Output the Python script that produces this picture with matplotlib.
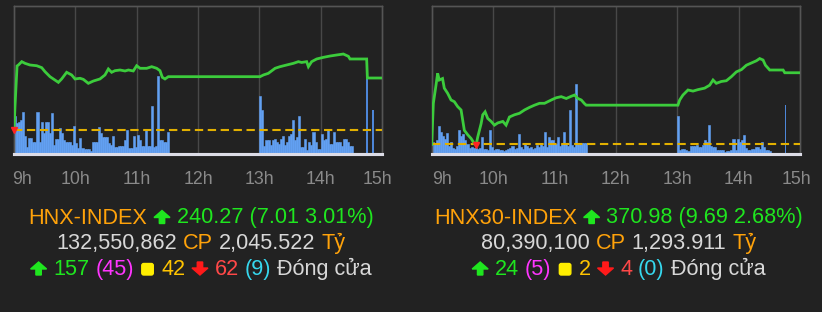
import matplotlib
matplotlib.use("Agg")
import matplotlib.pyplot as plt
from matplotlib.patches import Polygon, FancyBboxPatch
from matplotlib.transforms import IdentityTransform
import numpy as np

# ---------------- data ----------------
hour_labels = ["9h", "10h", "11h", "12h", "13h", "14h", "15h"]

# HNX-INDEX price path (minutes since 9:00, index value)
hnx_ref = 233.26
hnx_t = [0, 1, 3, 4.3, 7.6, 10.8, 15.6, 22.2, 27.1, 30.3, 35.2, 43.4, 46.6, 51.5, 56.4, 59.7,
         64.6, 67.8, 72.7, 77.6, 84.1, 89.0, 92.3, 95.5, 98.8, 103.7, 108.6, 111.9, 116.7,
         120.0, 123.3, 129.8, 134.7, 139.6, 142.8, 145.1, 147.7, 151.0, 240.7, 244.0, 248.8,
         255.4, 260.2, 266.8, 273.3, 278.2, 281.4, 286.3, 288.0, 291.2, 296.1, 302.6, 309.2,
         315.7, 322.2, 327.1, 328.7, 345.0, 345.7, 360.0]
hnx_p = [233.26, 236.5, 241.9, 242.03, 242.48, 242.25, 242.03, 241.93, 241.67, 241.13, 240.45,
         239.68, 240.14, 241.04, 240.68, 240.14, 240.23, 240.09, 239.55, 239.86, 240.14, 240.68,
         241.49, 241.04, 241.26, 241.35, 241.22, 241.35, 241.22, 241.93, 241.58, 241.58, 241.8,
         241.58, 241.26, 240.36, 240.14, 240.45, 240.45, 240.68, 240.9, 241.58, 241.8, 242.03,
         242.25, 242.48, 242.37, 242.48, 241.8, 242.48, 242.84, 243.06, 243.24, 243.38, 243.51,
         243.2, 242.84, 242.84, 240.27, 240.27]

# HNX-INDEX volume: 2-minute bins from 9:00 and from 13:00, plus ATC trades
hnx_vol_am = [38, 31, 32, 34, 42, 18, 7, 16, 16, 12, 12, 42, 12, 32, 21, 32, 32, 21, 41, 9,
              15, 15, 26, 21, 14, 12, 12, 12, 9, 28, 11, 6, 16, 6, 5, 5, 5, 3, 12, 12,
              12, 27, 21, 17, 17, 17, 11, 9, 18, 7, 7, 8, 8, 8, 14, 24, 6, 6, 18, 7,
              19, 14, 8, 8, 24, 8, 8, 48, 7, 8, 78, 14, 14, 12, 12, 22]
hnx_vol_pm = [58, 44, 8, 14, 14, 9, 14, 15, 12, 10, 15, 18, 9, 12, 18, 20, 34, 14, 17, 38,
              7, 7, 15, 4, 12, 9, 22, 12, 5, 5, 20, 14, 15, 25, 10, 10, 22, 12, 12, 12,
              8, 15, 15, 12, 8, 8]
hnx_atc_t = [344.5, 350.5]
hnx_atc_v = [76, 44]

# HNX30-INDEX price path
hnx30_ref = 361.29
hnx30_t = [0, 1.6, 4.2, 5.8, 7.4, 10.6, 12.3, 15.6, 18.9, 22.1, 25.4, 28.7, 31.9, 35.2, 38.5,
           41.7, 43.4, 45.0, 48.3, 49.9, 52.2, 54.8, 58.1, 61.3, 64.6, 69.5, 72.7, 76.0, 80.9,
           85.8, 90.7, 95.6, 100.5, 105.4, 110.3, 113.5, 118.4, 121.7, 126.6, 131.5, 136.4,
           139.6, 142.9, 146.2, 149.4, 151.0, 240.7, 242.4, 245.6, 250.5, 255.4, 260.3, 266.8,
           271.7, 275.0, 278.2, 283.1, 288.0, 292.9, 297.8, 302.7, 307.6, 312.5, 317.4, 320.6,
           323.9, 326.2, 330.4, 343.5, 345.1, 360.0]
hnx30_p = [361.29, 366.85, 369.3, 370.9, 370.0, 370.2, 368.9, 368.2, 367.3, 367.07, 366.4,
           365.95, 363.2, 362.6, 362.1, 361.4, 361.2, 362.3, 364.1, 365.3, 365.7, 364.8, 364.4,
           363.9, 364.2, 364.4, 363.9, 365.0, 365.3, 365.5, 365.95, 366.3, 366.6, 366.85,
           366.85, 367.07, 367.4, 367.6, 367.75, 367.5, 367.8, 367.97, 367.5, 367.3, 366.8,
           366.6, 366.6, 367.3, 367.97, 368.65, 368.5, 368.7, 368.9, 369.3, 370.0, 369.55,
           369.8, 369.9, 370.45, 371.1, 371.4, 372.0, 372.3, 372.6, 372.9, 372.7, 372.0,
           371.35, 371.35, 370.98, 370.98]

hnx30_vol_am = [12, 10, 14, 28, 22, 18, 15, 21, 8, 12, 6, 5, 8, 24, 18, 20, 14, 10, 6, 7,
                6, 6, 5, 6, 17, 5, 5, 4, 24, 7, 4, 5, 5, 4, 4, 3, 4, 5, 6, 8,
                5, 6, 20, 7, 5, 10, 8, 6, 7, 5, 6, 9, 7, 10, 8, 22, 7, 17, 14, 14,
                10, 17, 8, 10, 22, 10, 8, 44, 9, 7, 70, 11, 11, 11, 11, 11]
hnx30_vol_pm = [38, 4, 5, 5, 4, 3, 8, 8, 8, 9, 7, 7, 9, 14, 12, 29, 8, 7, 7, 4,
                4, 4, 4, 2, 3, 3, 4, 15, 4, 15, 12, 14, 19, 6, 4, 4, 5, 5, 7, 7,
                5, 12, 7, 4, 4, 3]
hnx30_atc_t = [345.0]
hnx30_atc_v = [49]

# text panel
hnx_name, hnx_close, hnx_chg = "HNX-INDEX", "240.27", "(7.01 3.01%)"
hnx_qty, hnx_val = "132,550,862", "2,045.522"
hnx_breadth = ["157", "(45)", "42", "62", "(9)"]
hnx30_name, hnx30_close, hnx30_chg = "HNX30-INDEX", "370.98", "(9.69 2.68%)"
hnx30_qty, hnx30_val = "80,390,100", "1,293.911"
hnx30_breadth = ["24", "(5)", "2", "4", "(0)"]

# ---------------- style ----------------
BG = "#222222"
W, H = 822, 312
fig = plt.figure(figsize=(W / 100, H / 100), dpi=100, facecolor=BG)

GREEN_LINE = "#3ccc3c"
BAR_C = "#62a0f2"
BAR_DARK = "#4d86d8"
REF_C = "#e2b000"


def make_panel(x0, x1, ylo, yhi, ref, t, p, vam, vpm, atc_t, atc_v, lab_dx):
    y0, y1 = 6, 154
    rect = [x0 / W, 1 - y1 / H, (x1 - x0) / W, (y1 - y0) / H]
    axv = fig.add_axes(rect)
    axv.set_facecolor(BG)
    ax = axv.twinx()
    ax.set_zorder(axv.get_zorder() + 1)
    ax.patch.set_visible(False)

    am_x = np.arange(len(vam)) * 2
    pm_x = 240 + np.arange(len(vpm)) * 2
    for xs, vs in ((am_x, vam), (pm_x, vpm)):
        axv.bar(xs, vs, width=2, align="edge", color=BAR_C, edgecolor=BAR_C,
                linewidth=0.4, zorder=2)
    axv.bar(atc_t, atc_v, width=1.6, align="edge", color=BAR_DARK, linewidth=0, zorder=2)
    axv.set_ylim(0, 148)
    axv.set_xlim(0, 360)

    for m in range(60, 360, 60):
        axv.axvline(m, color="#484848", lw=1, zorder=1)

    ax.set_xlim(0, 360)
    ax.set_ylim(ylo, yhi)
    ax.axhline(ref, color=REF_C, lw=1.5, dashes=(4, 2.2), zorder=3)
    ax.plot(t, p, color=GREEN_LINE, lw=2.0, zorder=4, solid_joinstyle="miter")
    i = int(np.argmin(p))
    ax.plot([t[i]], [p[i]], marker="v", color="#ff2222", ms=4, zorder=5, clip_on=False)

    for a in (ax, axv):
        a.set_yticks([])
        a.set_xticks([])
        for s in ("top", "left", "right"):
            a.spines[s].set_color("#555555")
            a.spines[s].set_linewidth(1)
        a.spines["bottom"].set_color("#dcdce6")
        a.spines["bottom"].set_linewidth(2.2)

    for k, lab in enumerate(hour_labels):
        dx = lab_dx[0] if k == 0 else (lab_dx[1] if k == len(hour_labels) - 1 else 0)
        axv.annotate(lab, xy=(k * 60, 0), xycoords=("data", "axes fraction"),
                     xytext=(dx * 0.72, -26 * 0.72), textcoords="offset points",
                     ha="center", va="center", fontsize=12.8, color="#8a8a8a",
                     family="Liberation Sans", annotation_clip=False)


make_panel(14, 382, 230, 250, hnx_ref, hnx_t, hnx_p, hnx_vol_am, hnx_vol_pm,
           hnx_atc_t, hnx_atc_v, (8, -5))
make_panel(431.7, 800, 360, 380, hnx30_ref, hnx30_t, hnx30_p, hnx30_vol_am, hnx30_vol_pm,
           hnx30_atc_t, hnx30_atc_v, (10, -4))

# ---------------- rich text lines ----------------
ORANGE = "#ffa20a"
GTXT = "#1fe61f"
GRAY = "#d8d8d8"
MAG = "#ff35ff"
YEL = "#ffee00"
GOLD = "#ffc400"
RED = "#ff1a1a"
RED2 = "#ff4848"
CYAN = "#36d8ee"
FS = 15.6
FAM = ["Liberation Sans", "DejaVu Sans"]

renderer = fig.canvas.get_renderer()
SPACE = 0.278 * FS * 100 / 72


def arrow_shape(x, base, color, up=True):
    hw, sw, hh, tot = 8.0, 2.7, 7.0, 13.0
    if up:
        pts = [(0, tot), (hw, tot - hh), (sw, tot - hh), (sw, 0), (-sw, 0), (-sw, tot - hh),
               (-hw, tot - hh)]
    else:
        pts = [(0, 0), (hw, hh), (sw, hh), (sw, tot), (-sw, tot), (-sw, hh), (-hw, hh)]
    cx = x + hw + 0.5
    yb = H - base
    poly = Polygon([(cx + a, yb + b) for a, b in pts], closed=True, color=color,
                   transform=IdentityTransform())
    fig.add_artist(poly)


def square_shape(x, base, color):
    s = 11.5
    yb = H - base
    p = FancyBboxPatch((x + 2, yb), s, s, boxstyle="round,pad=0,rounding_size=2",
                       color=color, transform=IdentityTransform())
    fig.add_artist(p)


def rich_line(pieces, cx, base_y):
    items = []
    total = 0
    for j, pc in enumerate(pieces):
        kind, s, c = pc
        if kind == "t":
            t = fig.text(0, 0, s, color=c, fontsize=FS, family=FAM, ha="left", va="baseline")
            w = t.get_window_extent(renderer).width
        elif kind == "up" or kind == "down":
            t, w = None, 17
        else:
            t, w = None, 15.5
        items.append((kind, t, w, c))
        total += w
        if j < len(pieces) - 1:
            total += SPACE
    x = cx - total / 2
    for kind, t, w, c in items:
        if kind == "t":
            t.set_position((x / W, 1 - base_y / H))
        elif kind == "up":
            arrow_shape(x, base_y, c, True)
        elif kind == "down":
            arrow_shape(x, base_y, c, False)
        else:
            square_shape(x, base_y, c)
        x += w + SPACE


def panel_text(cx, name, close, chg, qty, val, br):
    rich_line([("t", name, ORANGE), ("up", "", GTXT), ("t", close + " " + chg, GTXT)],
              cx, 223.5)
    rich_line([("t", qty, GRAY), ("t", "CP", ORANGE), ("t", val, GRAY), ("t", "Tỷ", ORANGE)],
              cx, 249)
    rich_line([("up", "", GTXT), ("t", br[0], GTXT), ("t", br[1], MAG), ("sq", "", YEL),
               ("t", br[2], GOLD), ("down", "", RED), ("t", br[3], RED2), ("t", br[4], CYAN),
               ("t", "Đóng cửa", GRAY)], cx, 275)


panel_text(201, hnx_name, hnx_close, hnx_chg, hnx_qty, hnx_val, hnx_breadth)
panel_text(618.5, hnx30_name, hnx30_close, hnx30_chg, hnx30_qty, hnx30_val, hnx30_breadth)

fig.savefig("out.png", dpi=100, facecolor=BG)
